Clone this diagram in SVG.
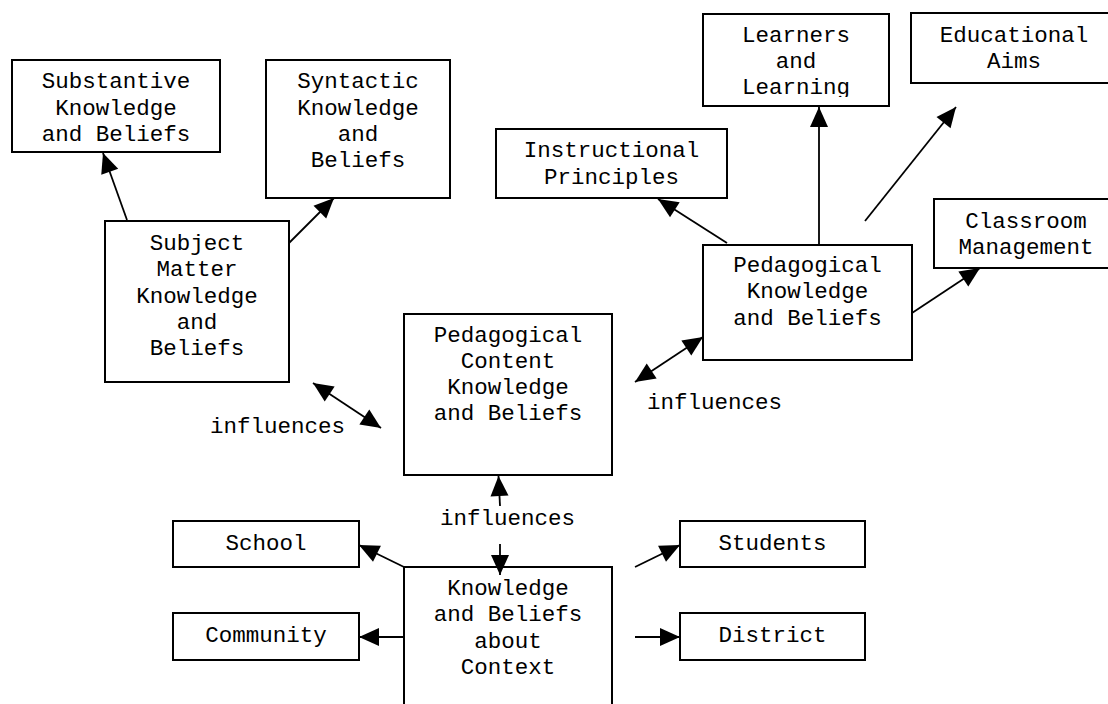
<svg xmlns="http://www.w3.org/2000/svg" width="1108" height="704" viewBox="0 0 1108 704">
  <style>
    .box { fill: #fff; stroke: #000; stroke-width: 2; }
    .lbl { font-family: "Liberation Mono", "Courier New", monospace; font-size: 22.5px; fill: #000; text-anchor: middle; }
    .free { font-family: "Liberation Mono", "Courier New", monospace; font-size: 22.5px; fill: #000; }
    .con { stroke: #000; stroke-width: 1.8; fill: none; marker-end: url(#ah); }
    .both { marker-start: url(#ah); }
  </style>
  <defs>
    <marker id="ah" markerUnits="userSpaceOnUse" markerWidth="20" markerHeight="18" refX="20" refY="9" orient="auto-start-reverse" overflow="visible">
      <path d="M0,0 L20,9 L0,18 z" fill="#000"/>
    </marker>
    <clipPath id="learnClip">
      <rect x="703" y="14" width="186" height="83"/>
    </clipPath>
  </defs>
  <rect width="1108" height="704" fill="#fff"/>

  <g id="substantive">
    <rect class="box" x="12" y="60" width="208" height="92"/>
    <text class="lbl" x="116" y="88">Substantive</text>
    <text class="lbl" x="116" y="115">Knowledge</text>
    <text class="lbl" x="116" y="141">and Beliefs</text>
  </g>

  <g id="syntactic">
    <rect class="box" x="266" y="60" width="184" height="138"/>
    <text class="lbl" x="358" y="88">Syntactic</text>
    <text class="lbl" x="358" y="115">Knowledge</text>
    <text class="lbl" x="358" y="141">and</text>
    <text class="lbl" x="358" y="167">Beliefs</text>
  </g>

  <g id="subject-matter">
    <rect class="box" x="105" y="221" width="184" height="161"/>
    <text class="lbl" x="197" y="250">Subject</text>
    <text class="lbl" x="197" y="276">Matter</text>
    <text class="lbl" x="197" y="303">Knowledge</text>
    <text class="lbl" x="197" y="329">and</text>
    <text class="lbl" x="197" y="355">Beliefs</text>
  </g>

  <g id="learners">
    <rect class="box" x="703" y="14" width="186" height="92"/>
    <g clip-path="url(#learnClip)">
      <text class="lbl" x="796" y="42">Learners</text>
      <text class="lbl" x="796" y="68">and</text>
      <text class="lbl" x="796" y="93.5">Learning</text>
    </g>
  </g>

  <g id="educational-aims">
    <rect class="box" x="911" y="13" width="210" height="70"/>
    <text class="lbl" x="1014" y="42">Educational</text>
    <text class="lbl" x="1014" y="68">Aims</text>
  </g>

  <g id="instructional">
    <rect class="box" x="496" y="129" width="231" height="69"/>
    <text class="lbl" x="611.5" y="157">Instructional</text>
    <text class="lbl" x="611.5" y="184">Principles</text>
  </g>

  <g id="classroom">
    <rect class="box" x="934" y="199" width="190" height="69"/>
    <text class="lbl" x="1026" y="228">Classroom</text>
    <text class="lbl" x="1026" y="254">Management</text>
  </g>

  <g id="pedagogical">
    <rect class="box" x="703" y="245" width="209" height="115"/>
    <text class="lbl" x="807.5" y="272">Pedagogical</text>
    <text class="lbl" x="807.5" y="298">Knowledge</text>
    <text class="lbl" x="807.5" y="325">and Beliefs</text>
  </g>

  <g id="pck">
    <rect class="box" x="404" y="314" width="208" height="161"/>
    <text class="lbl" x="508" y="342">Pedagogical</text>
    <text class="lbl" x="508" y="368">Content</text>
    <text class="lbl" x="508" y="394">Knowledge</text>
    <text class="lbl" x="508" y="420">and Beliefs</text>
  </g>

  <g id="context">
    <rect class="box" x="404" y="567" width="208" height="150"/>
    <text class="lbl" x="508" y="595">Knowledge</text>
    <text class="lbl" x="508" y="621">and Beliefs</text>
    <text class="lbl" x="508" y="648">about</text>
    <text class="lbl" x="508" y="674">Context</text>
  </g>

  <g id="school">
    <rect class="box" x="173" y="521" width="186" height="46"/>
    <text class="lbl" x="266" y="550">School</text>
  </g>

  <g id="community">
    <rect class="box" x="173" y="613" width="186" height="47"/>
    <text class="lbl" x="266" y="642">Community</text>
  </g>

  <g id="students">
    <rect class="box" x="680" y="521" width="185" height="46"/>
    <text class="lbl" x="772.5" y="550">Students</text>
  </g>

  <g id="district">
    <rect class="box" x="680" y="613" width="185" height="47"/>
    <text class="lbl" x="772.5" y="642">District</text>
  </g>

  <g id="connectors">
    <line class="con" x1="127" y1="220" x2="103" y2="153"/>
    <line class="con" x1="289" y1="243" x2="334" y2="198"/>
    <line class="con" x1="727" y1="243" x2="658" y2="199"/>
    <line class="con" x1="819" y1="245" x2="819" y2="107"/>
    <line class="con" x1="865" y1="221" x2="956" y2="107"/>
    <line class="con" x1="912" y1="313" x2="980" y2="268"/>
    <line class="con both" x1="313" y1="383" x2="381" y2="428"/>
    <line class="con both" x1="703" y1="337" x2="635" y2="382"/>
    <line class="con" x1="500" y1="506" x2="498.5" y2="476"/>
    <line class="con" x1="500" y1="544" x2="500" y2="575"/>
    <line class="con" x1="404" y1="567" x2="359" y2="545"/>
    <line class="con" x1="404" y1="637" x2="359" y2="637"/>
    <line class="con" x1="635" y1="567" x2="680" y2="545"/>
    <line class="con" x1="635" y1="637" x2="680" y2="637"/>
    <text class="free" x="210" y="433">influences</text>
    <text class="free" x="647" y="409">influences</text>
    <text class="free" x="440" y="525">influences</text>
  </g>
</svg>
